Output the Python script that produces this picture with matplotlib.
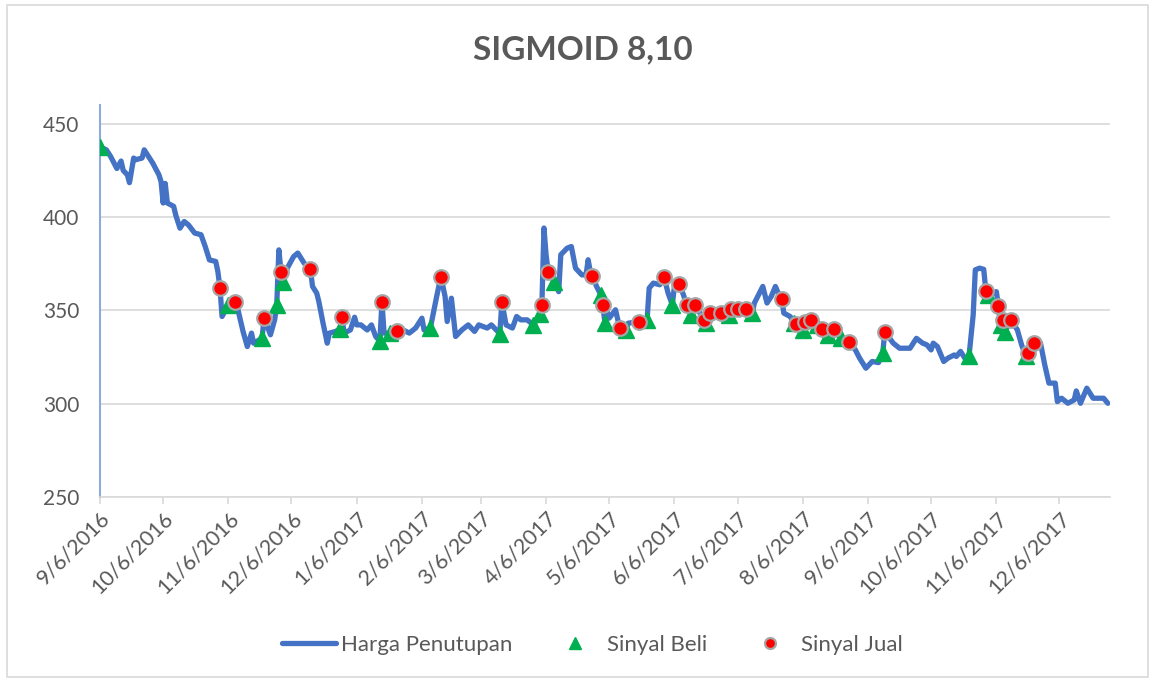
import numpy as np
import pandas as pd
import matplotlib
matplotlib.use("Agg")
import matplotlib.pyplot as plt
import matplotlib.dates as mdates
from matplotlib.patches import Rectangle

plt.rcParams['font.family'] = ['Lato', 'DejaVu Sans']

# hari ke-n sejak 6 Sep 2016, harga
tgl_awal = pd.Timestamp("2016-09-06")

hari_harga = [0, 3, 5, 8, 10, 11, 13, 14, 16, 17, 20, 21, 23, 25, 28, 29, 30, 31, 32, 35,
              36, 38, 40, 42, 45, 48, 50, 52, 55, 56, 57, 58, 61, 64, 65, 68, 70, 72, 73, 77,
              78, 81, 83, 84, 85, 86, 87, 89, 92, 94, 97, 100, 101, 103, 104, 106, 108, 109, 112, 114,
              115, 116, 119, 121, 122, 124, 127, 129, 131, 133, 134, 135, 138, 141, 144, 147, 150, 153, 154, 157,
              160, 162, 164, 165, 167, 169, 172, 175, 178, 180, 184, 186, 190, 191, 193, 196, 198, 200, 203, 205,
              206, 209, 210, 211, 212, 213, 216, 218, 219, 222, 224, 226, 229, 231, 232, 233, 234, 236, 238, 239,
              240, 241, 242, 245, 247, 250, 251, 256, 260, 261, 263, 266, 268, 270, 272, 273, 275, 277, 279, 281,
              283, 287, 288, 290, 295, 299, 300, 303, 307, 310, 311, 315, 317, 319, 321, 323, 324, 325, 328, 330,
              331, 334, 335, 338, 341, 343, 346, 349, 352, 356, 359, 361, 364, 367, 370, 372, 373, 377, 380, 385,
              388, 391, 393, 395, 396, 398, 401, 403, 406, 407, 409, 411, 413, 415, 416, 418, 420, 421, 422, 426,
              427, 428, 429, 430, 433, 436, 438, 440, 441, 444, 447, 449, 451, 454, 455, 457, 460, 463, 464, 466,
              469, 472, 477, 479]
harga = [437.5, 436, 432.5, 426, 430, 425, 422.6, 418.4, 431.6, 430.7, 431.6, 436, 432.5, 429, 422.6, 419, 407.5, 418, 407.5, 405.7,
         401, 394, 397.6, 395.8, 391.4, 390.5, 384.2, 377, 376.2, 370.8, 362.2, 346.7, 353, 354.7, 353, 338.6, 330.6, 337.8, 332.4, 335,
         346, 336.9, 344.9, 353, 382.4, 370.8, 365, 372.6, 378.8, 380.7, 375.3, 372.1, 362.8, 359.2, 354.7, 343.1, 332.4, 337.8, 338.7, 340,
         346.3, 337.8, 339.5, 346.3, 342.2, 342.2, 339.5, 342.2, 336, 333.5, 354.7, 337.8, 337.8, 338.7, 339.5, 337.8, 340.5, 345.8, 339.5, 340.5,
         357.4, 368.1, 357.4, 344, 356.5, 336, 339.5, 342.2, 338.7, 342.2, 340.5, 342.2, 337.5, 354.3, 342.2, 340.5, 346.7, 344.9, 344.9, 343.1,
         342, 348, 352.6, 394.1, 379.8, 370.5, 365.4, 360, 379.8, 383.3, 384.2, 372.6, 369, 369, 377.1, 370.8, 368.5, 362.8, 358.3, 352.6,
         343, 349.4, 345.8, 350.3, 340.5, 339.5, 343.1, 344, 344.9, 361.9, 364.6, 363.7, 368.1, 359.2, 353, 362.8, 364.2, 359.2, 352.6, 347.6,
         352.6, 344.9, 343, 348.8, 348.5, 347.6, 350.6, 350.6, 350.6, 348.5, 353.9, 362.8, 353.9, 357.4, 362.8, 357.4, 356.2, 348.5, 346.7, 343,
         342.8, 339.5, 344, 344.6, 342.2, 340, 337, 340, 335, 332.8, 328.8, 324.4, 319, 322.6, 322, 327, 338.6, 332.4, 329.7, 329.7,
         335, 332.4, 331.5, 328.8, 332.4, 330.6, 322.6, 324.4, 326.1, 325.3, 328, 324.4, 325.3, 347.6, 371.7, 372.6, 372, 360.6, 358, 360,
         352.4, 342.2, 344.6, 338.6, 344.6, 339.5, 331.5, 325.5, 327, 332.4, 332.4, 320.8, 311, 311, 301.1, 302.9, 300.2, 302, 306.8, 300.2,
         308.3, 302.9, 302.9, 300.2]

hari_beli = [0, 61, 77, 84, 87, 114, 133, 138, 157, 190, 206, 209, 216, 238, 240, 250, 260, 272, 281, 288,
             299, 310, 330, 334, 341, 346, 352, 372, 413, 422, 428, 430, 440]
harga_beli = [437.5, 353, 335, 353, 365, 340, 333.5, 337.8, 340.5, 337.5, 342, 348, 365.4, 358.3, 343, 339.5, 344.9, 353, 347.6, 343,
              347.6, 348.5, 343, 339.5, 342.2, 337, 335, 327, 325.3, 358, 342.2, 338.6, 325.5]

hari_jual = [57, 64, 78, 86, 100, 115, 134, 141, 162, 191, 210, 213, 234, 239, 247, 256, 268, 275, 279, 283,
             287, 290, 295, 300, 303, 307, 324, 331, 335, 338, 343, 349, 356, 373, 421, 427, 429, 433, 441, 444]
harga_jual = [362.2, 354.7, 346, 370.8, 372.1, 346.3, 354.7, 338.7, 368.1, 354.3, 352.6, 370.5, 368.5, 352.6, 340.5, 344, 368.1, 364.2, 352.6, 352.6,
              344.9, 348.8, 348.5, 350.6, 350.6, 350.6, 356.2, 342.8, 344, 344.6, 340, 340, 332.8, 338.6, 360.6, 352.4, 344.6, 344.6, 327, 332.4]

tgl_harga = tgl_awal + pd.to_timedelta(hari_harga, unit="D")
tgl_beli = tgl_awal + pd.to_timedelta(hari_beli, unit="D")
tgl_jual = tgl_awal + pd.to_timedelta(hari_jual, unit="D")

teks = '#595959'
garis = '#D9D9D9'

fig = plt.figure(figsize=(11.55, 6.82), dpi=100)
ax = fig.add_axes([0.0866, 0.2713, 0.8744, 0.5747])

ax.plot(tgl_harga, harga, color='#4472C4', lw=3.8, solid_joinstyle='round',
        solid_capstyle='round', label='Harga Penutupan', zorder=3)
ax.plot(tgl_beli, harga_beli, ls='none', marker='^', ms=11.5, color='#00B050',
        label='Sinyal Beli', zorder=4)
ax.plot(tgl_jual, harga_jual, ls='none', marker='o', ms=10.5, mfc='#FF0000',
        mec='#A6A6A6', mew=1.6, label='Sinyal Jual', zorder=5)

ax.set_ylim(250, 460)
ax.set_yticks([250, 300, 350, 400, 450])
ax.set_xlim(tgl_awal, tgl_awal + pd.Timedelta(days=480))
ax.xaxis.set_major_locator(mdates.MonthLocator(bymonthday=6))
ax.xaxis.set_major_formatter(mdates.DateFormatter('%-m/%-d/%Y'))

ax.grid(axis='y', color=garis, lw=1.2)
ax.set_axisbelow(True)
for s in ['top', 'right']:
    ax.spines[s].set_visible(False)
ax.spines['left'].set_color('#8FAADC')
ax.spines['left'].set_linewidth(1.5)
ax.spines['bottom'].set_color(garis)
ax.spines['bottom'].set_linewidth(1.2)

ax.tick_params(axis='y', length=0, pad=15, labelsize=15, labelcolor=teks)
ax.tick_params(axis='x', length=5, width=1.2, color=garis, pad=3, labelsize=15.5, labelcolor=teks)
for lab in ax.get_xticklabels():
    lab.set_rotation(45)
    lab.set_ha('right')
    lab.set_va('top')
    lab.set_rotation_mode('anchor')

fig.text(0.505, 0.927, 'SIGMOID 8,10', ha='center', va='center', fontsize=24,
         fontweight='bold', color=teks)

fig.legend(loc='center', bbox_to_anchor=(0.513, 0.054), ncol=3, frameon=False,
           fontsize=16, labelcolor=teks, handlelength=2.45, columnspacing=1.6,
           handletextpad=0.2, markerscale=0.75)

fig.patches.append(Rectangle((0.006, 0.007), 0.988, 0.986, transform=fig.transFigure,
                             fill=False, edgecolor=garis, lw=1.2))

fig.savefig('out.png', dpi=100)
